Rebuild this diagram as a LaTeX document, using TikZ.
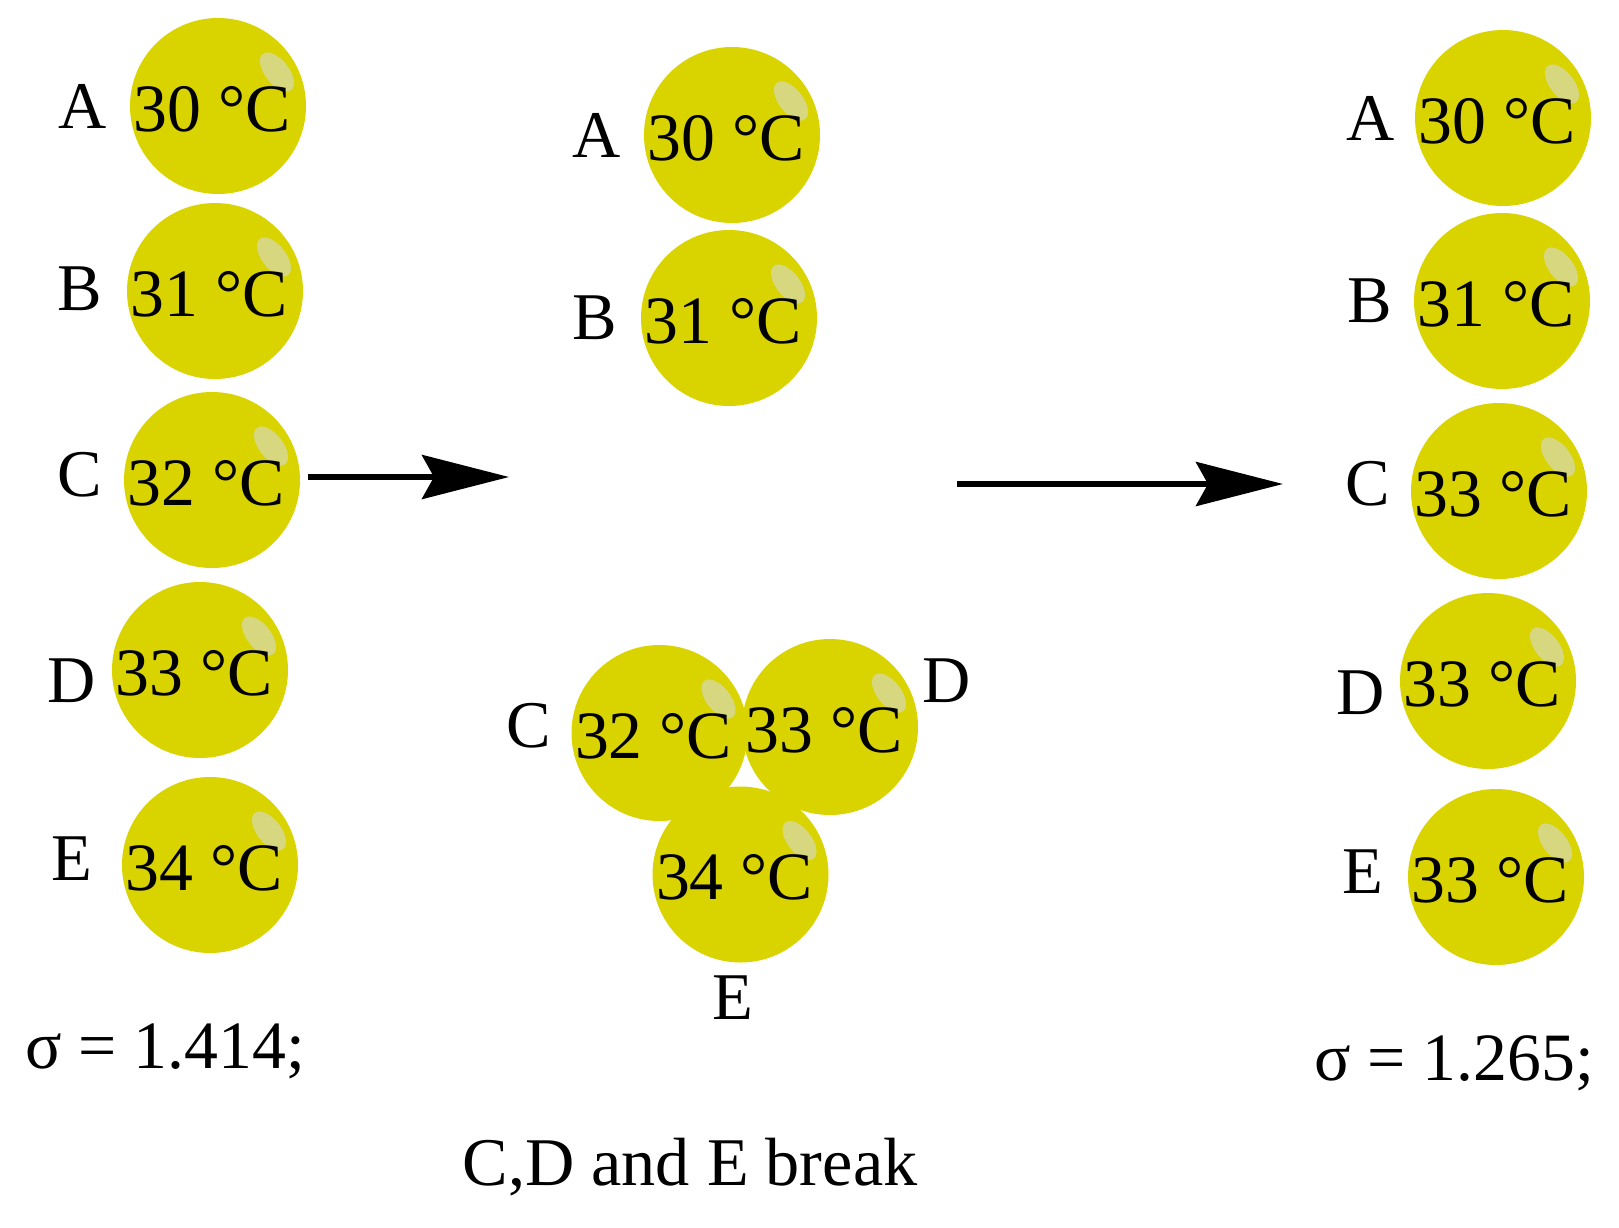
\documentclass[tikz,border=0pt]{standalone}
\usepackage{fontspec}
\setmainfont{Liberation Serif}
\usetikzlibrary{arrows.meta}
\definecolor{ballc}{RGB}{217,211,0}
\definecolor{shine}{RGB}{215,215,128}
\tikzset{
  ball/.style={circle, fill=ballc, minimum size=176bp, inner sep=0pt},
  balltext/.style={anchor=base, inner sep=0pt, font=\fontsize{68}{80}\selectfont},
  lbl/.style={inner sep=0pt, font=\fontsize{67}{80}\selectfont},
  sig/.style={anchor=base, inner sep=0pt, font=\fontsize{68}{80}\selectfont},
  arr/.style={line width=5.7bp, -{Stealth[length=87bp, width=44bp, inset=12bp]}},
}
\newcommand{\myball}[4]{%
  \node[ball] (#1) at (#2,#3) {};
  \fill[shine, rotate around={-52:(#2+59,#3-34)}] (#2+59,#3-34) ellipse[x radius=23, y radius=12];
  \node[balltext] (#1t) at (#2-6,#3+25) {#4};
}
\begin{document}
\begin{tikzpicture}[x=1bp, y=-1bp]
\useasboundingbox (0,0) rectangle (1619,1227);
% left column
\myball{la}{218}{106}{30 °C}
\myball{lb}{215}{291}{31 °C}
\myball{lc}{212}{480}{32 °C}
\myball{ld}{200}{670}{33 °C}
\myball{le}{210}{865}{34 °C}
\node[lbl] (lla) at (83,106) {A};
\node[lbl] (llb) at (80,289) {B};
\node[lbl] (llc) at (80,475) {C};
\node[lbl] (lld) at (72,681) {D};
\node[lbl] (lle) at (72,859) {E};
\node[sig] (lsig) at (165,1068) {σ = 1.414;};
% middle
\myball{ma}{732}{135}{30 °C}
\myball{mb}{729}{318}{31 °C}
\myball{mc}{659.5}{733}{32 °C}
\myball{md}{830}{727}{33 °C}
\myball{me}{740.5}{874.5}{34 °C}
\node[lbl] (mla) at (597,135) {A};
\node[lbl] (mlb) at (595,318) {B};
\node[lbl] (mlc) at (529,726) {C};
\node[lbl] (mld) at (947,681) {D};
\node[lbl] (mle) at (733,998) {E};
\node[anchor=base, inner sep=0pt, font=\fontsize{68.5}{82}\selectfont] (brk) at (690,1185) {C,D and E break};
% right
\myball{ra}{1503}{118}{30 °C}
\myball{rb}{1502}{301}{31 °C}
\myball{rc}{1499}{491}{33 °C}
\myball{rd}{1488}{681}{33 °C}
\myball{re}{1496}{877}{33 °C}
\node[lbl] (rla) at (1371,118) {A};
\node[lbl] (rlb) at (1370,301) {B};
\node[lbl] (rlc) at (1368,484) {C};
\node[lbl] (rld) at (1361,693) {D};
\node[lbl] (rle) at (1363,872) {E};
\node[sig] (rsig) at (1454,1080) {σ = 1.265;};
% arrows
\coordinate (a1s) at (308,477);
\coordinate (a1e) at (509,477);
\coordinate (a2s) at (957,484);
\coordinate (a2e) at (1283,484);
\draw[arr] (a1s) -- (a1e);
\draw[arr] (a2s) -- (a2e);
\end{tikzpicture}
\end{document}
